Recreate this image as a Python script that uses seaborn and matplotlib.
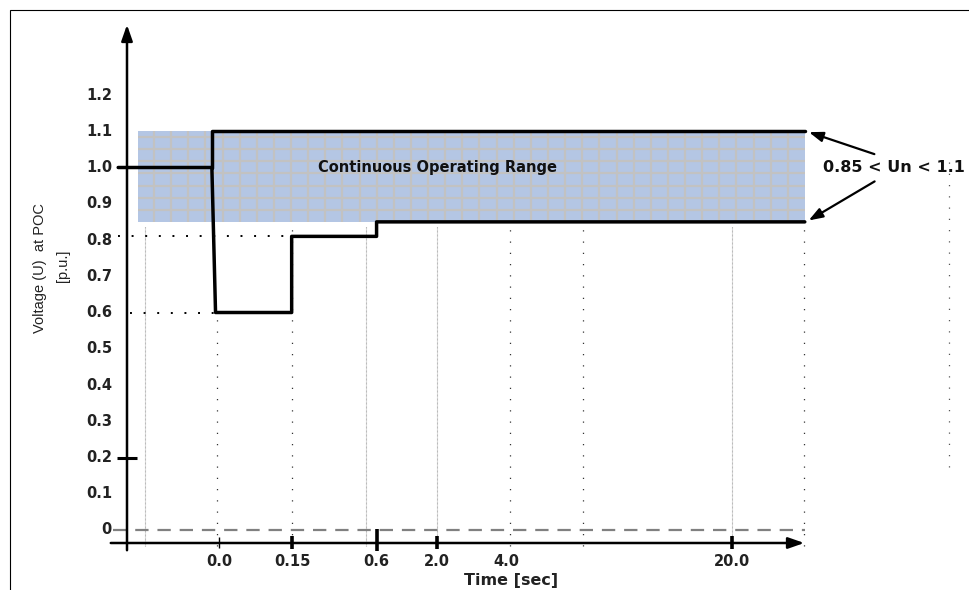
import numpy as np
import pandas as pd
import matplotlib.pyplot as plt
import seaborn as sns
from matplotlib.patches import Rectangle

# --- Data (schematic x positions: one slot per grid column, 0 = fault instant) ---
y_ticks = [0.0, 0.1, 0.2, 0.3, 0.4, 0.5, 0.6, 0.7, 0.8, 0.9, 1.0, 1.1, 1.2]
y_tick_labels = ["0", "0.1", "0.2", "0.3", "0.4", "0.5", "0.6", "0.7", "0.8", "0.9", "1.0", "1.1", "1.2"]
time_labels = ["0.0", "0.15", "0.6", "2.0", "4.0", "20.0"]
time_slots = [0.03, 1.03, 2.18, 3.0, 3.95, 7.03]

# lower envelope (fault ride-through profile)
lower_x = [-1.35, -0.07, -0.02, 1.02, 1.02, 2.18, 2.18, 8.03]
lower_v = [1.0, 1.0, 0.6, 0.6, 0.81, 0.81, 0.85, 0.85]
# upper envelope
upper_x = [-0.07, -0.07, 8.03]
upper_v = [1.0, 1.1, 1.1]

band_low, band_high = 0.85, 1.1
band_x0, band_x1 = -1.08, 8.03

grid_slots = [-0.99, 0.0, 1.02, 2.03, 3.0, 4.0, 5.0, 7.03, 8.02]

OUT = "out.png"
BOLD = ['DejaVu Sans']


def to_y(px):
    return (530 - px) / 362.5


def to_x(px):
    return (px - 217) / 73.2


def generate_chart():
    sns.set_theme(style="white")
    plt.rcParams['font.family'] = ['Liberation Sans', 'DejaVu Sans']

    fig = plt.figure(figsize=(9.7, 5.9), dpi=100)
    ax = fig.add_axes([0, 0, 1, 1])
    ax.set_xlim(to_x(0), to_x(970))
    ax.set_ylim(to_y(590), to_y(0))
    ax.set_axis_off()

    # figure border (left and top edges)
    fig.patches.append(Rectangle((10 / 970, -0.1), 2, 1.1 - 10 / 590,
                                 transform=fig.transFigure, fill=False,
                                 edgecolor='black', lw=0.8))

    # shaded continuous operating band with its grid
    ax.add_patch(Rectangle((band_x0, band_low), band_x1 - band_x0, band_high - band_low,
                           facecolor='#b4c6e4', edgecolor='none', zorder=1))
    for gx in np.arange(band_x0 + 0.22, band_x1, 0.234):
        ax.vlines(gx, band_low, band_high, color='#c2c2c2', lw=1.6, zorder=1.5)
    for gy in np.arange(band_low + 0.033, band_high, 0.0335):
        ax.hlines(gy, band_x0, band_x1, color='#c2c2c2', lw=1.6, zorder=1.5)

    # dotted vertical guides
    for i, gx in enumerate(grid_slots):
        top = 0.59 if i == 1 else band_low - 0.01
        if i in (0, 3, 4, 7):
            ax.vlines(gx, -0.045, top, color='#9a9a9a', lw=0.8,
                      linestyles=(0, (0.6, 0.6)), zorder=1)
        else:
            ax.vlines(gx, -0.045, top, color='#333333', lw=0.9,
                      linestyles=(0, (1, 8)), zorder=1)
    ax.vlines(10.0, to_y(467), to_y(158), color='#555555', lw=0.9,
              linestyles=(0, (1, 8)), zorder=1)

    # dotted horizontal guides
    ax.hlines(0.81, -1.35, 1.0, color='black', lw=1.4, linestyles=(0, (1, 6)), zorder=2)
    ax.hlines(0.6, -1.19, -0.02, color='black', lw=1.4, linestyles=(0, (1, 6)), zorder=2)

    # dashed zero line
    ax.hlines(0.0, -1.42, 8.03, color='#808080', lw=1.6, linestyles=(0, (6, 4)), zorder=2)

    # envelopes
    lower = pd.DataFrame({'x': lower_x, 'v': lower_v})
    upper = pd.DataFrame({'x': upper_x, 'v': upper_v})
    sns.lineplot(data=lower, x='x', y='v', sort=False, estimator=None,
                 color='black', lw=2.5, ax=ax, zorder=4)
    sns.lineplot(data=upper, x='x', y='v', sort=False, estimator=None,
                 color='black', lw=2.5, ax=ax, zorder=4)

    # axes with arrows
    y_axis_x = to_x(127)
    x_axis_y = to_y(543)
    ax.annotate('', xy=(y_axis_x, to_y(22)), xytext=(y_axis_x, to_y(553)),
                arrowprops=dict(arrowstyle='-|>,head_length=0.8,head_width=0.28',
                                color='black', lw=1.8), zorder=5)
    ax.annotate('', xy=(to_x(807), x_axis_y), xytext=(to_x(108), x_axis_y),
                arrowprops=dict(arrowstyle='-|>,head_length=0.8,head_width=0.28',
                                color='black', lw=1.8), zorder=5)

    # y tick labels and marks
    for v, lab in zip(y_ticks, y_tick_labels):
        ax.text(to_x(112), v, lab, ha='right', va='center', family=BOLD,
                fontsize=10.5, fontweight='bold', color='#222222')
    ax.hlines(0.2, to_x(117), to_x(137), color='black', lw=2.2, zorder=5)

    # x tick labels and marks
    for s, lab in zip(time_slots, time_labels):
        ax.text(s, to_y(561), lab, ha='center', va='center', family=BOLD,
                fontsize=10.5, fontweight='bold', color='#222222')
    ax.vlines(time_slots[0], to_y(548), to_y(537), color='black', lw=1.0, zorder=5)
    for s in (time_slots[1], time_slots[3], time_slots[5]):
        ax.vlines(s, to_y(549), to_y(536), color='black', lw=2.6, zorder=5)
    ax.vlines(time_slots[2], to_y(551), to_y(529), color='black', lw=2.6, zorder=5)

    # axis titles
    ax.text(to_x(511), to_y(580), 'Time [sec]', ha='center', va='center', family=BOLD,
            fontsize=11.5, fontweight='bold', color='#222222')
    ax.text(to_x(40), to_y(268), 'Voltage (U)  at POC', ha='center', va='center',
            rotation=90, fontsize=10.5, color='#222222')
    ax.text(to_x(63), to_y(266), '[p.u.]', ha='center', va='center',
            rotation=90, fontsize=10.5, color='#222222')

    # annotations
    ax.text(to_x(438), 1.0, 'Continuous Operating Range', ha='center', va='center',
            family=BOLD, fontsize=10.5, fontweight='bold', color='#111111', zorder=6)
    ax.text(to_x(894), 1.0, '0.85 < Un < 1.1', ha='center', va='center',
            family=BOLD, fontsize=11.5, fontweight='bold', color='#111111', zorder=6)
    for end_v, start_px in ((band_high, 155), (band_low, 180)):
        ax.annotate('', xy=(band_x1 + 0.02, end_v),
                    xytext=(to_x(877), to_y(start_px)),
                    arrowprops=dict(arrowstyle='-|>,head_length=0.7,head_width=0.25',
                                    color='black', lw=1.6), zorder=6)

    fig.savefig(OUT, dpi=100)
    plt.close(fig)


if __name__ == "__main__":
    generate_chart()
